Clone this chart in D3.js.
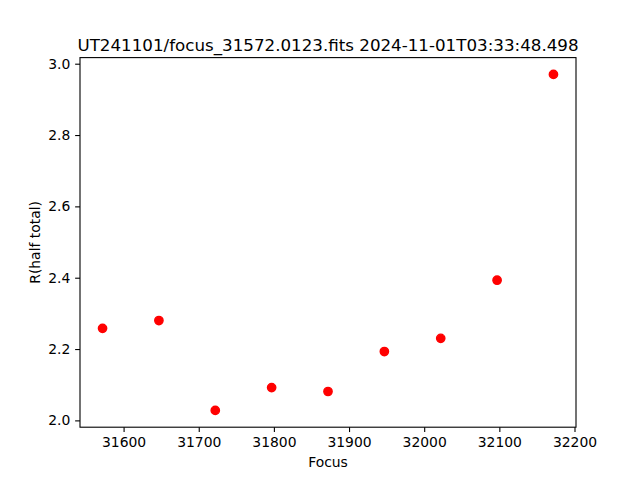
<!DOCTYPE html>
<html><head><meta charset="utf-8">
<script src="https://cdn.jsdelivr.net/npm/d3@7"></script>
<style>body{margin:0;background:#fff}svg{display:block}text{font-family:"DejaVu Sans",sans-serif;fill:#000}</style>
</head><body>
<script>
const focus = [31572, 31647, 31722, 31797, 31872, 31947, 32022, 32097, 32172];
const rHalf = [2.258, 2.280, 2.028, 2.092, 2.081, 2.193, 2.230, 2.393, 2.970];
const xTicks = [31600, 31700, 31800, 31900, 32000, 32100, 32200];
const yTicks = [2.0, 2.2, 2.4, 2.6, 2.8, 3.0];
const title = "UT241101/focus_31572.0123.fits 2024-11-01T03:33:48.498";

const W = 640, H = 480, L = 80, R = 576, T = 57.6, B = 427.2;
const svg = d3.select("body").append("svg").attr("width", W).attr("height", H);
const xmin = d3.min(focus), xmax = d3.max(focus), xr = xmax - xmin;
const ymin = d3.min(rHalf), ymax = d3.max(rHalf), yr = ymax - ymin;
const x = d3.scaleLinear().domain([xmin - 0.05 * xr, xmax + 0.05 * xr]).range([L, R]);
const y = d3.scaleLinear().domain([ymin - 0.05 * yr, ymax + 0.05 * yr]).range([B, T]);

const xa = svg.append("g").attr("transform", `translate(0,${B})`)
  .call(d3.axisBottom(x).tickValues(xTicks).tickFormat(d3.format("d")).tickSize(4.86).tickPadding(4.9));
const ya = svg.append("g").attr("transform", `translate(${L},0)`)
  .call(d3.axisLeft(y).tickValues(yTicks).tickFormat(d3.format(".1f")).tickSize(4.86).tickPadding(4.9));
[xa, ya].forEach(a => {
  a.select(".domain").remove();
  a.selectAll("line").attr("stroke", "#000").attr("stroke-width", 1.1);
  a.selectAll("text").attr("font-size", 13.9).attr("font-family", "DejaVu Sans");
});

svg.append("rect").attr("x", L).attr("y", T).attr("width", R - L).attr("height", B - T)
  .attr("fill", "none").attr("stroke", "#000").attr("stroke-width", 1.1);

svg.append("g").selectAll("circle").data(focus).join("circle")
  .attr("cx", d => x(d)).attr("cy", (d, i) => y(rHalf[i]))
  .attr("r", 4.17).attr("fill", "#ff0000").attr("stroke", "#ff0000").attr("stroke-width", 1.39);

svg.append("text").attr("x", (L + R) / 2).attr("y", 50.5).attr("text-anchor", "middle")
  .attr("font-size", 16.7).text(title);
svg.append("text").attr("x", (L + R) / 2).attr("y", 467).attr("text-anchor", "middle")
  .attr("font-size", 13.9).text("Focus");
svg.append("text").attr("transform", `translate(39.5,${(T + B) / 2}) rotate(-90)`)
  .attr("text-anchor", "middle").attr("font-size", 13.9).text("R(half total)");
</script>
</body></html>
